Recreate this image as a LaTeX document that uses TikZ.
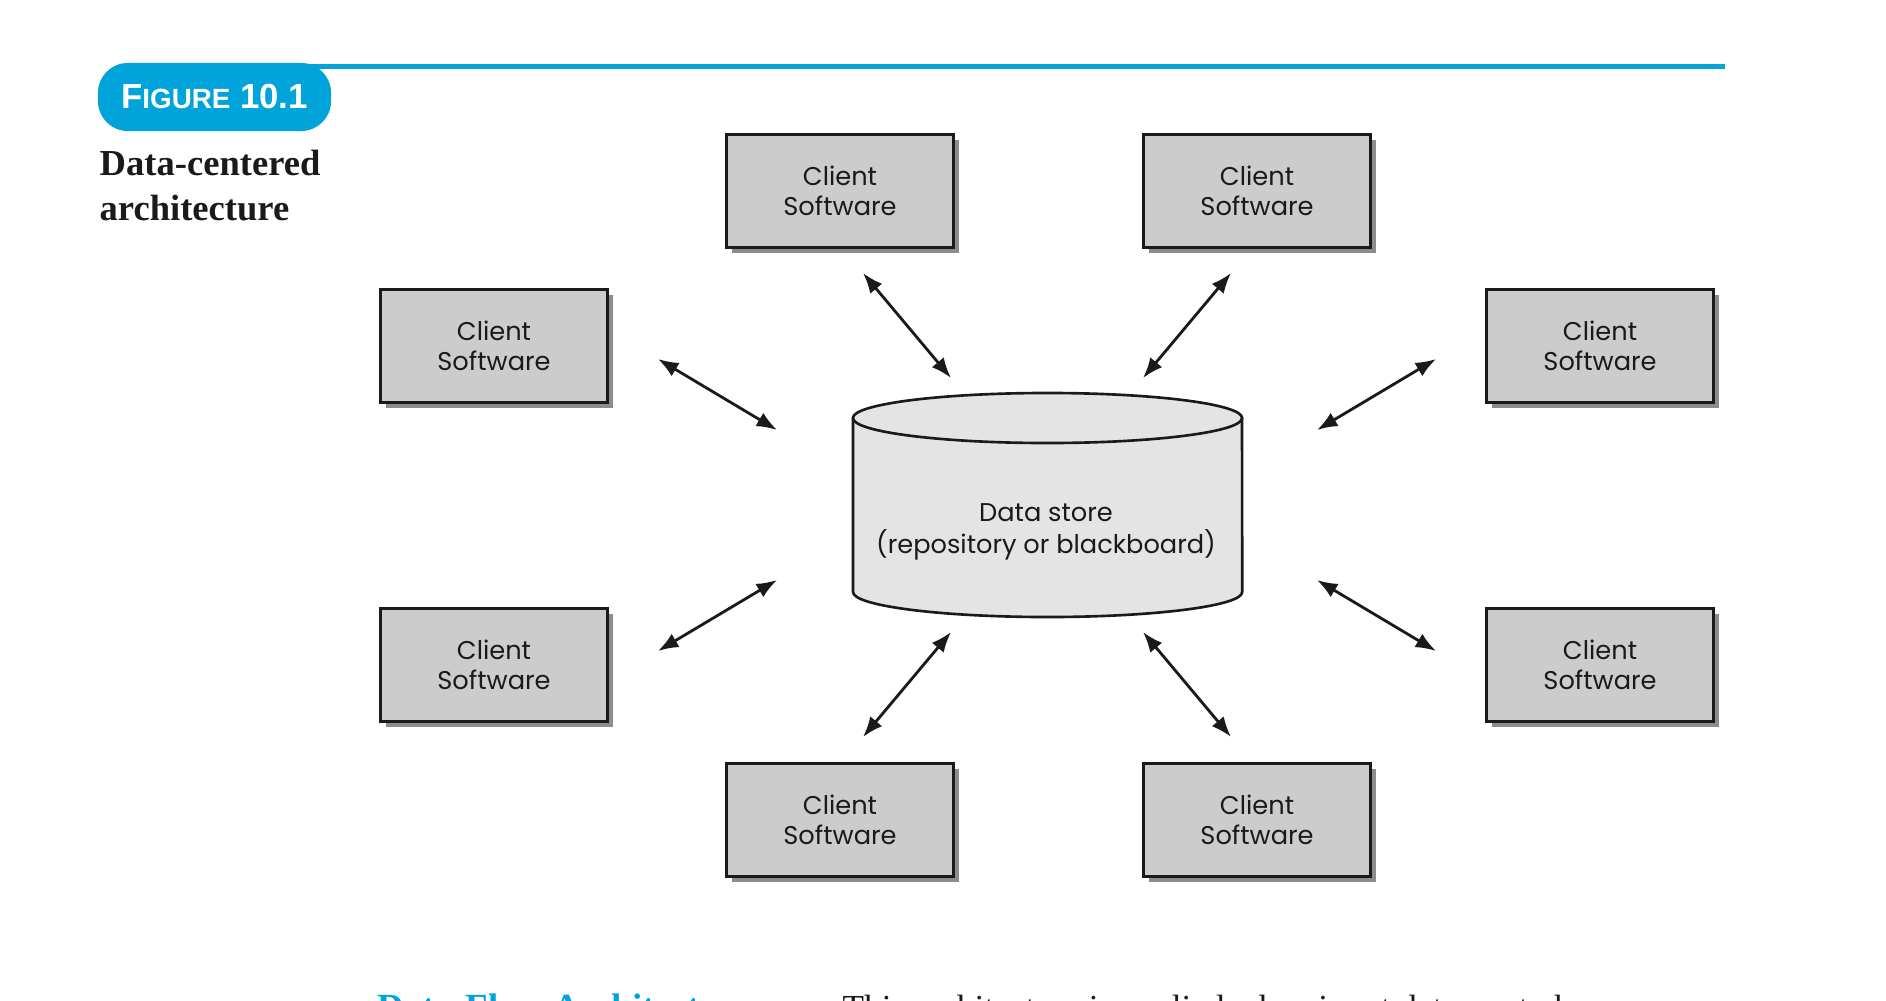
\documentclass[tikz,border=0pt]{standalone}
\usepackage{fontspec}
\setmainfont{Liberation Serif}
\newfontfamily\boxfont{Poppins}
\newfontfamily\badgefont{Liberation Sans}
\usetikzlibrary{arrows.meta,shadows}

\definecolor{figblue}{HTML}{00A3DA}
\definecolor{boxgray}{HTML}{CCCCCC}
\definecolor{storegray}{HTML}{E4E4E4}
\definecolor{shadowgray}{HTML}{8C8C8C}
\definecolor{inkblack}{HTML}{1A1A1A}

\tikzset{
  client/.style={draw=inkblack, line width=1pt, fill=boxgray, minimum width=2.27cm,
    minimum height=1.13cm, inner sep=0pt, align=center, text=inkblack,
    font=\boxfont\fontsize{7.3}{8.4}\selectfont,
    drop shadow={fill=shadowgray, opacity=1, shadow xshift=1.6pt, shadow yshift=-1.6pt}},
  link/.style={{Latex[length=5.8pt,width=4.4pt]}-{Latex[length=5.8pt,width=4.4pt]},
    line width=0.8pt, inkblack},
  caption/.style={anchor=base west, inner sep=0pt, text=inkblack,
    font=\bfseries\fontsize{10.4}{11.9}\selectfont},
}

\begin{document}
\begin{tikzpicture}[x=0.01cm, y=-0.01cm]
  % Page size
  \useasboundingbox (0,0) rectangle (1886,1000);
  \clip (0,0) rectangle (1886,1000);

  % Blue rule and figure badge
  \draw[figblue, line width=1.42pt] (300,66.5) -- (1725,66.5);
  \node[fill=figblue, rounded corners=8.5pt, minimum width=2.33cm, minimum height=0.68cm,
    inner sep=0pt, text=white] (badge) at (214.5,97)
    {\badgefont\bfseries\fontsize{9.9}{9.9}\selectfont F{\fontsize{7.9}{7.9}\selectfont IGURE} 10.1};

  % Caption
  \node[caption] (cap1) at (99,175) {Data-centered};
  \node[caption] (cap2) at (99,220) {architecture};

  % Data store (cylinder)
  \fill[storegray] (853,418) -- (853,592)
    arc[start angle=180, end angle=360, x radius=1.945cm, y radius=0.25cm] -- (1242,418)
    arc[start angle=0, end angle=180, x radius=1.945cm, y radius=0.25cm] -- cycle;
  \draw[inkblack, line width=0.75pt] (853,418) -- (853,592)
    arc[start angle=180, end angle=360, x radius=1.945cm, y radius=0.25cm] -- (1242,418);
  \draw[inkblack, line width=0.75pt] (1047.5,418) ellipse[x radius=1.945cm, y radius=0.25cm];
  \node[align=center, text=inkblack, font=\boxfont\fontsize{7.3}{9}\selectfont] (store)
    at (1046,532) {Data store\\(repository or blackboard)};

  % Client boxes
  \node[client] (clientTL) at (840,191) {Client\\Software};
  \node[client] (clientTR) at (1257,191) {Client\\Software};
  \node[client] (clientLU) at (494,346) {Client\\Software};
  \node[client] (clientRU) at (1600,346) {Client\\Software};
  \node[client] (clientLL) at (494,665) {Client\\Software};
  \node[client] (clientRL) at (1600,665) {Client\\Software};
  \node[client] (clientBL) at (840,820) {Client\\Software};
  \node[client] (clientBR) at (1257,820) {Client\\Software};

  % Arrow ends
  \coordinate (tlA) at (863,273);  \coordinate (tlB) at (951,378);
  \coordinate (trA) at (1231,273); \coordinate (trB) at (1143,378);
  \coordinate (luA) at (658,359);  \coordinate (luB) at (777,430);
  \coordinate (ruA) at (1436,359); \coordinate (ruB) at (1317,430);
  \coordinate (llA) at (658,651);  \coordinate (llB) at (777,580);
  \coordinate (rlA) at (1436,651); \coordinate (rlB) at (1317,580);
  \coordinate (blA) at (863,737);  \coordinate (blB) at (951,632);
  \coordinate (brA) at (1231,737); \coordinate (brB) at (1143,632);

  % Two-way links
  \draw[link] (tlA) -- (tlB);
  \draw[link] (trA) -- (trB);
  \draw[link] (luA) -- (luB);
  \draw[link] (ruA) -- (ruB);
  \draw[link] (llA) -- (llB);
  \draw[link] (rlA) -- (rlB);
  \draw[link] (blA) -- (blB);
  \draw[link] (brA) -- (brB);

  % Next section, cut off by the page edge
  \node[anchor=base west, inner sep=0pt, text=figblue, font=\bfseries\fontsize{10.5}{12}\selectfont]
    (nexthead) at (377,1019) {Data-Flow Architectures.};
  \node[anchor=base west, inner sep=0pt, text=inkblack, font=\fontsize{10}{12}\selectfont]
    (nexttext) at (842,1019) {This architecture is applied when input data are to be};
\end{tikzpicture}
\end{document}
